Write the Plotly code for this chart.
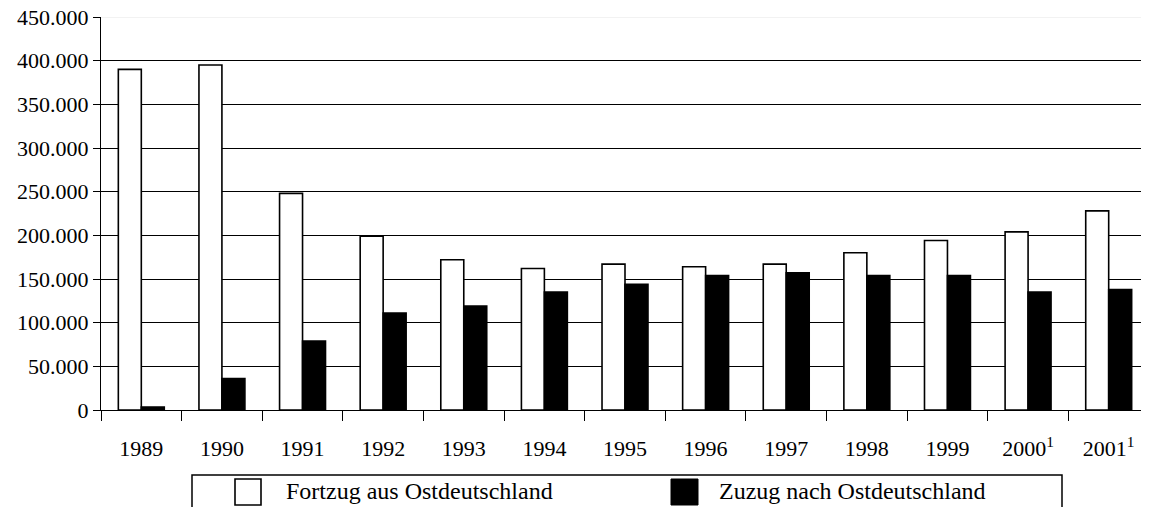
import plotly.graph_objs as go

years = ["1989", "1990", "1991", "1992", "1993", "1994", "1995",
         "1996", "1997", "1998", "1999", "2000<sup>1</sup>", "2001<sup>1</sup>"]
fortzug = [390000, 395000, 248000, 199000, 172000, 162000, 167000,
           164000, 167000, 180000, 194000, 204000, 228000]
zuzug = [3500, 36000, 79000, 111000, 119000, 135000, 144000,
         154000, 157000, 154000, 154000, 135000, 138000]
legend_names = ["Fortzug aus Ostdeutschland", "Zuzug nach Ostdeutschland"]

# the page body has an 8px margin, margins below make up for it
OFF = 8
W, H = 1149, 507
L, R, T, B = 93, 8, 9, 105
FONT = "Liberation Serif, Times New Roman, serif"


def px(x):
    return (x - OFF - L) / (W - L - R)


def py(y):
    return (H - B - (y - OFF)) / (H - T - B)


fig = go.Figure()
fig.add_trace(go.Bar(x=years, y=fortzug, name=legend_names[0],
                     marker=dict(color="white", line=dict(color="black", width=1.6))))
fig.add_trace(go.Bar(x=years, y=zuzug, name=legend_names[1],
                     marker=dict(color="black", line=dict(color="black", width=1.6))))

# hand made legend (big squares, box cut by the bottom edge)
shapes = [
    dict(type="line", xref="paper", yref="y", x0=0, x1=1, y0=450000, y1=450000,
         line=dict(color="#e6e6e6", width=1), layer="below"),
    dict(type="rect", xref="paper", yref="paper", x0=px(192), x1=px(1062),
         y0=py(475), y1=py(530), line=dict(color="black", width=1.5)),
    dict(type="rect", xref="paper", yref="paper", x0=px(235), x1=px(261),
         y0=py(479), y1=py(505), line=dict(color="black", width=1.6), fillcolor="white"),
    dict(type="rect", xref="paper", yref="paper", x0=px(671), x1=px(698),
         y0=py(479), y1=py(505), line=dict(color="black", width=1), fillcolor="black"),
]
annotations = [
    dict(text=legend_names[0], xref="paper", yref="paper", x=px(284), y=py(491),
         xanchor="left", yanchor="middle", showarrow=False, font=dict(size=24)),
    dict(text=legend_names[1], xref="paper", yref="paper", x=px(717), y=py(491),
         xanchor="left", yanchor="middle", showarrow=False, font=dict(size=24)),
]

fig.update_layout(
    width=W, height=H,
    margin=dict(l=L, r=R, t=T, b=B, autoexpand=False),
    paper_bgcolor="white", plot_bgcolor="white",
    font=dict(family=FONT, size=22, color="black"),
    separators=",.",
    barmode="group", bargap=0.43, bargroupgap=0,
    showlegend=False,
    shapes=shapes, annotations=annotations,
)
fig.update_xaxes(showgrid=False, showline=True, linecolor="black", linewidth=1,
                 ticks="outside", ticklen=10, tickcolor="black", tickson="boundaries",
                 ticklabelstandoff=19, tickangle=0, automargin=False)
fig.update_yaxes(range=[0, 450000], dtick=50000, tickformat=",d",
                 showgrid=True, gridcolor="black", gridwidth=1.3,
                 showline=True, linecolor="black", linewidth=1,
                 ticks="outside", ticklen=7, tickcolor="black",
                 ticklabeloverflow="allow", automargin=False, zeroline=False)

fig.write_html("out.html")
